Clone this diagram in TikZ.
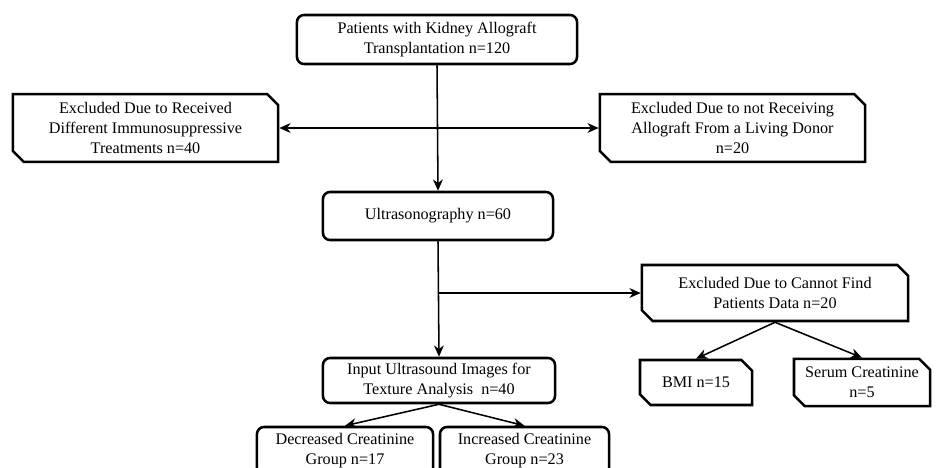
\documentclass[tikz,border=0pt]{standalone}
\usepackage{fontspec}
\setmainfont{Liberation Serif}
\usetikzlibrary{arrows.meta,shapes.misc}
\begin{document}
\begin{tikzpicture}[x=0.025cm, y=-0.025cm,
    font=\fontsize{11.5}{14.2}\selectfont,
    roundbox/.style={draw, line width=1.8pt, rounded corners=5pt, align=center, inner sep=2pt},
    snipbox/.style={draw, line width=1.8pt, chamfered rectangle,
        chamfered rectangle corners={north east, south west},
        chamfered rectangle xsep=3.8pt, chamfered rectangle ysep=3.8pt, align=center, inner sep=2pt},
    link/.style={line width=1.1pt, -{Stealth[length=8pt, width=7pt, inset=2.5pt]}}]
    \useasboundingbox (0,0) rectangle (939,467);
    % main column
    \node[roundbox, minimum width=7cm, minimum height=1.225cm] (patients) at (437,39.5)
        {Patients with Kidney Allograft\\Transplantation n=120};
    \node[roundbox, minimum width=5.75cm, minimum height=1.2cm] (ultra) at (438,216)
        {Ultrasonography n=60};
    \node[roundbox, minimum width=5.8cm, minimum height=1.125cm] (input) at (439,380.5)
        {Input Ultrasound Images for\\Texture Analysis\ \ n=40};
    \node[roundbox, minimum width=4.4cm, minimum height=1.2cm] (decreased) at (345,451)
        {Decreased Creatinine\\Group n=17};
    \node[roundbox, minimum width=4.225cm, minimum height=1.2cm] (increased) at (524.5,451)
        {Increased Creatinine\\Group n=23};
    % exclusions
    \node[snipbox, minimum width=6.625cm, minimum height=1.45cm] (exclimmuno) at (145.5,128)
        {Excluded Due to Received\\Different Immunosuppressive\\Treatments n=40};
    \node[snipbox, minimum width=6.625cm, minimum height=1.45cm] (excldonor) at (732.5,128)
        {Excluded Due to not Receiving\\Allograft From a Living Donor\\n=20};
    \node[snipbox, minimum width=6.65cm, minimum height=1.4cm] (excldata) at (775,293)
        {Excluded Due to Cannot Find\\Patients Data n=20};
    \node[snipbox, minimum width=2.8cm, minimum height=1.125cm] (bmi) at (696,382.5)
        {BMI n=15};
    \node[snipbox, minimum width=3.4cm, minimum height=1.125cm] (serum) at (862,382.5)
        {Serum Creatinine\\n=5};
    % connectors
    \draw[link] (patients.south) -- (ultra.north);
    \draw[link, {Stealth[length=8pt, width=7pt, inset=2.5pt]}-{Stealth[length=8pt, width=7pt, inset=2.5pt]}]
        (exclimmuno.east) -- (excldonor.west);
    \draw[link] (ultra.south) -- (input.north);
    \coordinate (branch) at (ultra.south |- excldata.west);
    \draw[link] (branch) -- (excldata.west);
    \draw[link] (excldata.south) -- (bmi.north);
    \draw[link] (excldata.south) -- (serum.north);
    \draw[link] (input.south) -- (decreased.north);
    \draw[link] (input.south) -- (increased.north);
\end{tikzpicture}
\end{document}
